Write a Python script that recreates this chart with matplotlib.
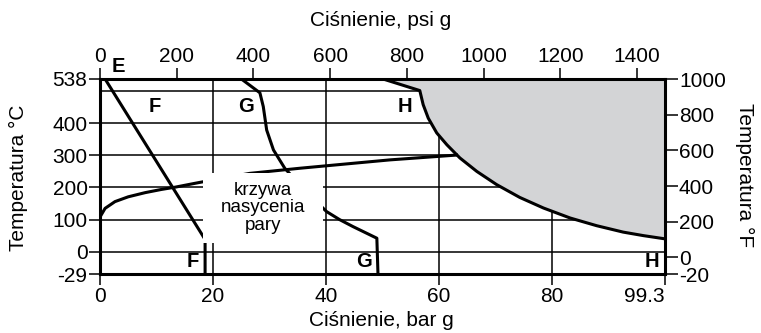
import matplotlib
matplotlib.use("Agg")
import matplotlib.pyplot as plt
from matplotlib.patches import Rectangle

plt.rcParams['font.family'] = ['Liberation Sans', 'DejaVu Sans']

# pressure (bar g) / temperature (deg C)
ef_bar = [0.9, 18.6, 18.6]
ef_temp = [538, 38, -29]

g_bar = [25.1, 28.3, 28.9, 29.5, 30.7, 32.7, 36.3, 40.1, 42.4, 44.8, 49.0, 49.2]
g_temp = [537, 495, 452, 379, 317, 260, 190, 125, 100, 78, 42, -29]

h_bar = [50.1, 56.6, 57.2, 58.1, 59.6, 61.4, 63.7, 66.7, 70.2, 74.3, 78.5,
         83.2, 87.9, 92.6, 96.2, 100]
h_temp = [538, 502, 458, 416, 370, 333, 292, 250, 209, 169, 136,
          105, 81, 61, 50, 40]

sat_bar = [0, 0.9, 2.65, 5.0, 8.0, 10.9, 13.3, 16.8, 18.3, 26.5, 35.4, 51.3, 63.1]
sat_temp = [108, 135, 156, 171, 184, 194, 201, 213, 218, 244, 260, 286, 301]

bar_ticks = [0, 20, 40, 60, 80, 100]
bar_labels = ['0', '20', '40', '60', '80', '99.3']
psi_ticks = [0, 200, 400, 600, 800, 1000, 1200, 1400]
c_ticks = [-29, 0, 100, 200, 300, 400, 538]
f_ticks = [-20, 0, 200, 400, 600, 800, 1000]
c_grid = [0, 100, 200, 300, 400, 500]
bar_grid = [20, 40, 60, 80]


def ypos(t):
    # the bottom row (-29 C) is stretched on the original chart
    return t * 69.5 / 29 if t < 0 else t


def fpos(f):
    # deg F -> position on the deg C axis, bottom row stretched too
    if f < 0:
        return -69.5
    return (f - 32) / 1.8


fig = plt.figure(figsize=(7.61, 3.33), dpi=100)
ax = fig.add_axes([100 / 761, 1 - 274 / 333, 565 / 761, 195 / 333])
ax.set_xlim(0, 100)
ax.set_ylim(-69.5, 538)

for g in bar_grid:
    ax.axvline(g, color='black', lw=1.1, zorder=1)
for g in c_grid:
    ax.axhline(g, color='black', lw=1.1, zorder=1)

ax.fill_between(h_bar, h_temp, 538, color='#d3d4d6', zorder=2, lw=0)

lw = 2.2
line = dict(color='black', lw=lw, zorder=3, solid_joinstyle='round')
ax.plot(ef_bar, [ypos(t) for t in ef_temp], **line)
ax.plot(g_bar, [ypos(t) for t in g_temp], **line)
ax.plot(h_bar, h_temp, **line)
ax.plot(sat_bar, sat_temp, **line)

# label box over the saturation curve
ax.add_patch(Rectangle((18.2, 26), 21.3, 218, facecolor='white',
                       edgecolor='none', zorder=4))
ax.text(28.85, 137, 'krzywa\nnasycenia\npary', ha='center', va='center',
        fontsize=13.5, linespacing=1.05, zorder=5)

bold = dict(fontsize=14.5, fontweight='bold', ha='center', va='center', zorder=5)
ax.text(3.3, 577, 'E', clip_on=False, **bold)
ax.text(9.7, 451, 'F', **bold)
ax.text(25.8, 451, 'G', **bold)
ax.text(54.0, 451, 'H', **bold)
ax.text(16.5, ypos(-13), 'F', **bold)
ax.text(46.7, ypos(-13), 'G', **bold)
ax.text(97.7, ypos(-13), 'H', **bold)

ax.set_xticks(bar_ticks)
ax.set_xticklabels(bar_labels)
ax.set_yticks([ypos(t) for t in c_ticks])
ax.set_yticklabels([str(t) for t in c_ticks])
ax.tick_params(labelsize=15, width=1.1, length=8, pad=1, direction='out')
lbls = ax.get_xticklabels()
lbls[-1].set_horizontalalignment('right')

for s in ax.spines.values():
    s.set_linewidth(2.2)
    s.set_zorder(6)

ax_top = ax.twiny()
ax_top.set_xlim(0, 1473)
ax_top.set_xticks(psi_ticks)
ax_top.tick_params(labelsize=15, width=1.1, length=8, pad=1)

ax_r = ax.twinx()
ax_r.set_ylim(-69.5, 538)
ax_r.set_yticks([fpos(f) for f in f_ticks])
ax_r.set_yticklabels([str(f) for f in f_ticks])
ax_r.tick_params(labelsize=15, width=1.1, length=9, pad=1)
ax_r.get_yticklabels()[0].set_verticalalignment('center_baseline')

for a in (ax_top, ax_r):
    for s in a.spines.values():
        s.set_visible(False)

fig.text(381 / 761, 1 - 20 / 333, 'Ciśnienie, psi g', ha='center', va='center', fontsize=15)
fig.text(381 / 761, 1 - 320 / 333, 'Ciśnienie, bar g', ha='center', va='center', fontsize=15)
fig.text(18 / 761, 1 - 178 / 333, 'Temperatura °C', ha='center', va='center',
         fontsize=15, rotation=90)
fig.text(745 / 761, 1 - 175 / 333, 'Temperatura °F', ha='center', va='center',
         fontsize=15, rotation=270)

fig.savefig('out.png', dpi=100)
